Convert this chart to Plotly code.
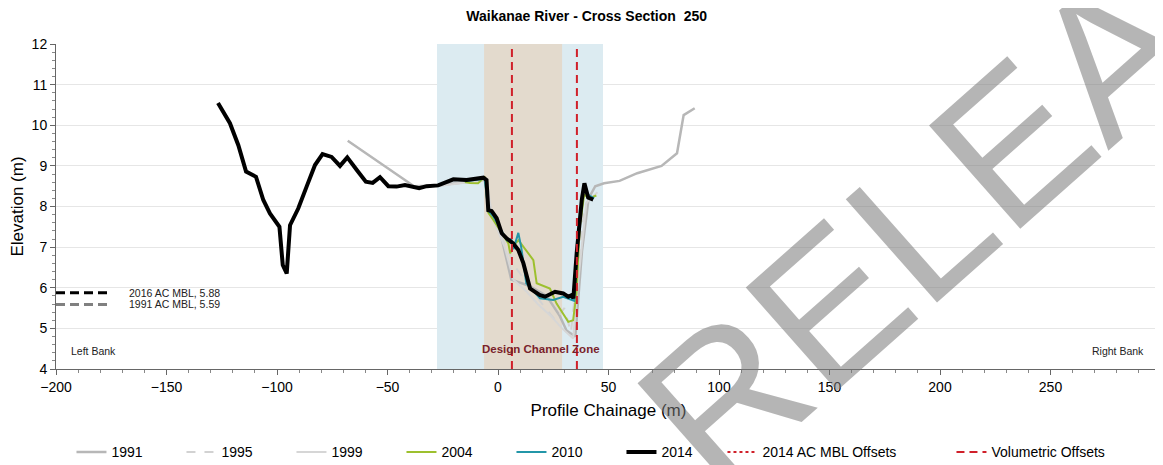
import plotly.graph_objects as go

# survey profiles: chainage (m) and elevation (m)
x_1991 = [-68, -38, -28, -15, -6, -4, 0, 6, 14, 22, 28, 31, 35, 38, 41, 44, 48, 55, 63, 74, 81, 84, 89]
y_1991 = [9.62, 8.50, 8.52, 8.60, 8.65, 7.9, 7.6, 6.2, 6.05, 5.8, 5.3, 4.95, 4.8, 6.9, 8.2, 8.5, 8.57, 8.63, 8.82, 9.0, 9.31, 10.25, 10.42]

x_1995 = [-28, -15, -5, -3, 2, 8, 12, 20, 26, 30, 33, 36, 39, 43]
y_1995 = [8.5, 8.6, 8.62, 7.85, 7.2, 6.5, 6.2, 5.6, 5.2, 5.5, 4.9, 6.5, 8.0, 8.3]

x_1999 = [-28, -10, -5, -3, 3, 7, 13, 18, 24, 29, 34, 36, 40, 45]
y_1999 = [8.5, 8.62, 8.65, 7.8, 7.0, 6.2, 5.9, 5.6, 5.3, 5.0, 4.75, 6.0, 8.1, 8.35]

x_2004 = [-15, -12.7, -9, -5.9, -4.4, -2.1, 4.7, 5.5, 7.8, 9.3, 16, 17.5, 23.5, 26.5, 31.8, 34, 35.5, 37, 39, 41, 44.5]
y_2004 = [8.6, 8.58, 8.57, 8.73, 7.85, 7.67, 7.09, 6.85, 7.09, 7.17, 6.68, 6.11, 5.98, 5.61, 5.16, 5.2, 5.86, 7.5, 8.3, 8.2, 8.27]

x_2010 = [-15, -6, -4.4, -2, 4, 6, 7, 9.2, 10.5, 12.8, 19, 25, 29.5, 33, 34.5, 36, 38, 39.3, 40.5, 43.5]
y_2010 = [8.62, 8.68, 7.9, 7.75, 7.17, 7.2, 6.95, 7.35, 7.0, 6.11, 5.74, 5.7, 5.78, 5.72, 5.68, 7.0, 8.3, 8.5, 8.3, 8.2]

x_2014 = [-126.7, -121.3, -117.5, -114, -109.5, -106.2, -103.2, -98.9, -97.4, -95.6, -94.1, -90.4,
          -86.6, -82.8, -79.4, -75.3, -71.5, -68.2, -63.9, -59.8, -56.7, -53.4, -49.6, -45.9, -42.1,
          -35.7, -32.3, -27.1, -20.2, -14.2, -6.6, -5.2, -4.4, -2.9, -0.6, 1.7, 4, 6.9, 9.2, 11.5,
          14.5, 19, 21.3, 25.8, 29.5, 31.8, 33.3, 34.1, 35.6, 37.9, 39.1, 40.1, 40.8, 43.1]
y_2014 = [10.55, 10.05, 9.51, 8.86, 8.73, 8.16, 7.83, 7.50, 6.56, 6.35, 7.54, 7.95,
          8.49, 9.02, 9.29, 9.22, 9.0, 9.21, 8.9, 8.61, 8.58, 8.72, 8.50, 8.49, 8.53,
          8.45, 8.50, 8.52, 8.67, 8.65, 8.71, 8.65, 7.91, 7.89, 7.71, 7.34, 7.21, 7.09, 6.93, 6.60,
          5.98, 5.82, 5.78, 5.90, 5.86, 5.78, 5.82, 5.74, 6.85, 8.16, 8.57, 8.32, 8.22, 8.17]

# zones and offsets
outer_zone = [-27.6, 47.5]
design_zone = [-6.3, 29.0]
volumetric_offsets = [6.3, 35.7]

mbl_names = ['2016 AC MBL, 5.88', '1991 AC MBL, 5.59']
mbl_levels = [5.88, 5.59]
mbl_span = [-200, -175]

x_range = [-200, 300]
y_range = [4, 12]

fig = go.Figure()

# shaded zones as filled polygons
fig.add_trace(go.Scatter(
    x=[outer_zone[0], outer_zone[1], outer_zone[1], outer_zone[0]],
    y=[y_range[0], y_range[0], y_range[1], y_range[1]],
    fill='toself', fillcolor='#dcebf1', line={'width': 0},
    mode='lines', showlegend=False, hoverinfo='skip'))
fig.add_trace(go.Scatter(
    x=[design_zone[0], design_zone[1], design_zone[1], design_zone[0]],
    y=[y_range[0], y_range[0], y_range[1], y_range[1]],
    fill='toself', fillcolor='#e3dacd', line={'width': 0},
    mode='lines', showlegend=False, hoverinfo='skip'))

series = [
    ('1991', x_1991, y_1991, '#b7b7b7', 2.5, 'solid', 65),
    ('1995', x_1995, y_1995, '#d2d2d2', 2, 'dash', 65),
    ('1999', x_1999, y_1999, '#d6d6d6', 2, 'solid', 65),
    ('2004', x_2004, y_2004, '#9dc02e', 2, 'solid', 65),
    ('2010', x_2010, y_2010, '#2396a8', 2, 'solid', 65),
    ('2014', x_2014, y_2014, '#000000', 4, 'solid', 56),
]
for name, xs, ys, col, w, dash, lw in series:
    fig.add_trace(go.Scatter(
        x=xs, y=ys, name=name, mode='lines',
        line={'color': col, 'width': w, 'dash': dash},
        legendwidth=lw))

fig.add_trace(go.Scatter(
    x=[None], y=[None], name='2014 AC MBL Offsets', mode='lines',
    line={'color': '#d0202a', 'width': 2, 'dash': 'dot'},
    legendwidth=184))

vx, vy = [], []
for v in volumetric_offsets:
    vx += [v, v, None]
    vy += [y_range[0], y_range[1], None]
fig.add_trace(go.Scatter(
    x=vx, y=vy, name='Volumetric Offsets', mode='lines',
    line={'color': '#d0202a', 'width': 2, 'dash': '8px,5px'},
    legendwidth=150))

mbl_colors = ['#000000', '#808080']
for name, lvl, col in zip(mbl_names, mbl_levels, mbl_colors):
    fig.add_trace(go.Scatter(
        x=mbl_span, y=[lvl, lvl], mode='lines', showlegend=False,
        line={'color': col, 'width': 3, 'dash': '9px,5px'}))
    fig.add_annotation(x=-168, y=lvl, text=name, showarrow=False,
                       xanchor='left', yanchor='middle',
                       font={'size': 10.5, 'color': '#222222'})

fig.add_annotation(x=-194, y=4.45, text='Left Bank', showarrow=False,
                   xanchor='left', font={'size': 10.5, 'color': '#222222'})
fig.add_annotation(x=293, y=4.45, text='Right Bank', showarrow=False,
                   xanchor='right', font={'size': 10.5, 'color': '#222222'})
fig.add_annotation(x=19.5, y=4.5, text='<b>Design Channel Zone</b>', showarrow=False,
                   font={'size': 11.5, 'color': '#7a1f2b'})

# draft watermark, split in two words so each can be placed
wm_font = {'size': 200, 'color': 'rgba(120,120,120,0.55)', 'family': 'Liberation Sans, Arial'}
fig.add_annotation(xref='paper', yref='paper', x=0.869, y=0.705,
                   text='RELEASE', showarrow=False, textangle=-41.5,
                   xanchor='center', yanchor='middle', font=wm_font)
fig.add_annotation(xref='paper', yref='paper', x=0.398, y=-0.846,
                   text='FOR', showarrow=False, textangle=-41.5,
                   xanchor='center', yanchor='middle', font=wm_font)

# page has an 8px body margin, so the figure is 8px smaller each way
fig.update_layout(
    width=1155, height=457,
    paper_bgcolor='white', plot_bgcolor='white',
    font={'family': 'Liberation Sans, Arial', 'size': 14, 'color': '#000000'},
    title={'text': '<b>Waikanae River - Cross Section\u00a0 250</b>',
           'x': 0.501, 'xanchor': 'center', 'y': 0.9825, 'yanchor': 'middle',
           'font': {'size': 14}},
    margin={'l': 48, 'r': 2, 't': 36, 'b': 96, 'autoexpand': False},
    legend={'orientation': 'h', 'x': 0.014, 'xanchor': 'left',
            'y': -0.207, 'yanchor': 'top', 'font': {'size': 14},
            'bgcolor': 'rgba(0,0,0,0)'},
    showlegend=True,
)

fig.update_xaxes(
    range=x_range, tickmode='linear', tick0=-200, dtick=50,
    showgrid=False, zeroline=False,
    showline=True, linecolor='#666666', linewidth=1,
    ticks='outside', ticklen=5, tickcolor='#666666',
    minor={'dtick': 10, 'ticks': 'outside', 'ticklen': 3, 'tickcolor': '#888888'},
    title={'text': 'Profile Chainage (m)', 'standoff': 10},
)
fig.update_yaxes(
    range=y_range, tickmode='linear', tick0=4, dtick=1,
    showgrid=True, gridcolor='#e6e6e6', zeroline=False,
    showline=True, linecolor='#666666', linewidth=1,
    ticks='outside', ticklen=5, tickcolor='#666666',
    minor={'dtick': 0.2, 'ticks': 'outside', 'ticklen': 3, 'tickcolor': '#888888'},
    title={'text': 'Elevation (m)', 'standoff': 8},
)

fig.write_html("out.html")
